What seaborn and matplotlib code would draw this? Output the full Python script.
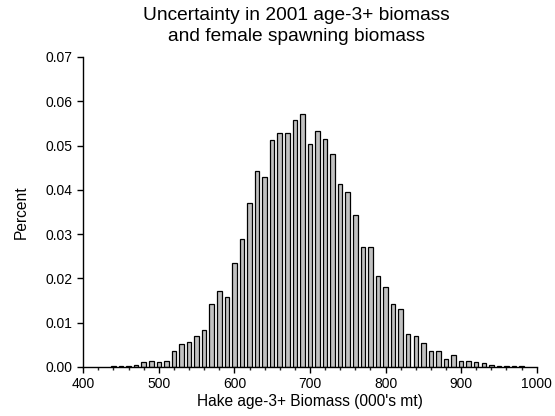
import matplotlib
matplotlib.use("Agg")
import matplotlib.pyplot as plt
import numpy as np
import pandas as pd
import seaborn as sns
from matplotlib.ticker import MultipleLocator

# bin centres (000's mt) and the share of runs in each bin
biomass = list(range(440, 990, 10))
percent = [
    0.0002, 0.0003, 0.0003, 0.0004, 0.0011, 0.0013, 0.0010, 0.0013,
    0.0035, 0.0051, 0.0057, 0.0069, 0.0083, 0.0141, 0.0172, 0.0159,
    0.0235, 0.0289, 0.0370, 0.0442, 0.0430, 0.0512, 0.0528, 0.0528,
    0.0558, 0.0571, 0.0504, 0.0532, 0.0514, 0.0480, 0.0414, 0.0394,
    0.0342, 0.0271, 0.0271, 0.0206, 0.0180, 0.0143, 0.0131, 0.0075,
    0.0069, 0.0055, 0.0035, 0.0037, 0.0017, 0.0027, 0.0013, 0.0013,
    0.0010, 0.0008, 0.0005, 0.0001, 0.0001, 0.0003, 0.0001,
]

df = pd.DataFrame({"biomass": biomass, "percent": percent})

sns.set_style("ticks")
plt.rcParams["font.family"] = ["Liberation Sans", "DejaVu Sans"]
plt.rcParams["text.color"] = "black"
plt.rcParams["axes.labelcolor"] = "black"

fig = plt.figure(figsize=(5.55, 4.16), dpi=100)
ax = fig.add_axes([0.150, 0.118, 0.817, 0.745])

sns.histplot(
    data=df, x="biomass", weights="percent", binwidth=10, binrange=(435, 985),
    shrink=0.6, color="#c0c0c0", edgecolor="black", linewidth=0.9, alpha=1, ax=ax
)

ax.set_xlim(400, 1000)
ax.set_ylim(0, 0.07)
ax.xaxis.set_major_locator(MultipleLocator(100))
ax.xaxis.set_minor_locator(MultipleLocator(20))
ax.yaxis.set_major_locator(MultipleLocator(0.01))
ax.yaxis.set_major_formatter(plt.FormatStrFormatter("%.2f"))
ax.tick_params(axis="both", which="major", length=4, width=1, labelsize=10,
               color="black", labelcolor="black", direction="out")
ax.tick_params(axis="x", which="minor", length=2.5, width=1, direction="out")

for side in ["top", "right"]:
    ax.spines[side].set_visible(False)
for side in ["left", "bottom"]:
    ax.spines[side].set_linewidth(1)
    ax.spines[side].set_color("black")

ax.set_xlabel("Hake age-3+ Biomass (000's mt)", fontsize=11.2, labelpad=2)
ax.set_ylabel("Percent", fontsize=11.2, labelpad=12)

fig.text(0.534, 0.983, "Uncertainty in 2001 age-3+ biomass\nand female spawning biomass",
         ha="center", va="top", fontsize=13.8, linespacing=1.32)

fig.savefig("out.png", dpi=100)
